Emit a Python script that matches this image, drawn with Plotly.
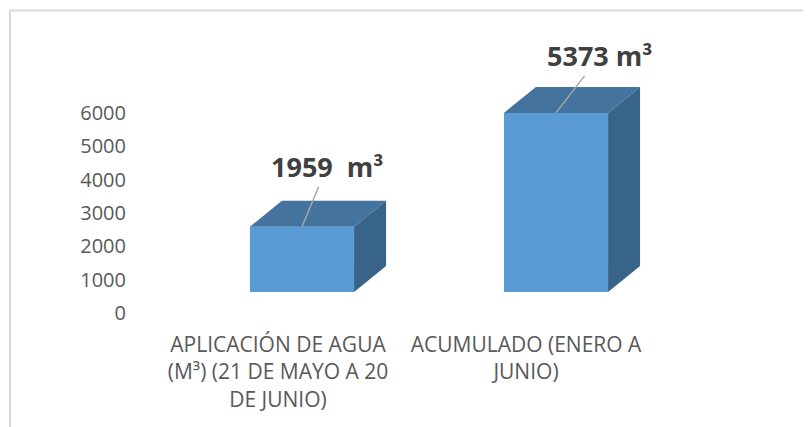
import plotly.graph_objects as go

##### Data #####

categories = [
    "APLICACIÓN DE AGUA<br>(M³) (21 DE MAYO A 20<br>DE JUNIO)",
    "ACUMULADO (ENERO A<br>JUNIO)",
]
values = [1959, 5373]
value_labels = ["1959  m³", "5373 m³"]
y_ticks = [0, 1000, 2000, 3000, 4000, 5000, 6000]

##### Style #####

front_color = "#5B9BD5"
top_color = "#44739E"
side_color = "#38648A"
text_color = "#595959"
font = "Open Sans"

bar_w = 0.41     # front face width (x units)
depth_x = 0.126  # 3D depth offset (x units)
depth_y = 780    # 3D depth offset (y units)

# page has an 8px body margin, so figure pixels = page pixels - 8
W, H = 811, 427

##### Figure #####

fig = go.Figure()

xs = list(range(len(values)))

fig.add_trace(go.Bar(
    x=xs, y=values, width=bar_w,
    marker=dict(color=front_color, line=dict(width=0)),
    xaxis="x2", yaxis="y2", hoverinfo="skip", showlegend=False,
))

for x, v in zip(xs, values):
    l, r = x - bar_w / 2, x + bar_w / 2
    # top face
    fig.add_trace(go.Scatter(
        x=[l, r, r + depth_x, l + depth_x, l],
        y=[v, v, v + depth_y, v + depth_y, v],
        fill="toself", fillcolor=top_color, mode="lines",
        line=dict(width=0), xaxis="x2", yaxis="y2",
        hoverinfo="skip", showlegend=False,
    ))
    # side face
    fig.add_trace(go.Scatter(
        x=[r, r, r + depth_x, r + depth_x, r],
        y=[0, v, v + depth_y, depth_y, 0],
        fill="toself", fillcolor=side_color, mode="lines",
        line=dict(width=0), xaxis="x2", yaxis="y2",
        hoverinfo="skip", showlegend=False,
    ))

# invisible trace so the label axes get drawn
fig.add_trace(go.Scatter(x=xs, y=[0, 0], mode="markers", marker=dict(opacity=0),
                         hoverinfo="skip", showlegend=False))

offsets = [(25, -60), (44, -57)]
for x, v, t, (ax, ay) in zip(xs, values, value_labels, offsets):
    fig.add_annotation(
        x=x, y=v, xref="x2", yref="y2", text="<b>" + t + "</b>",
        showarrow=True, arrowhead=0, arrowwidth=1.5, arrowcolor="#A6A6A6",
        ax=ax, ay=ay, font=dict(family=font, size=27, color="#404040"),
    )

dom_y = [1 - 322 / H, 1 - 12 / H]

fig.update_layout(
    width=W, height=H,
    margin=dict(l=0, r=0, t=0, b=0),
    paper_bgcolor="white", plot_bgcolor="white",
    font=dict(family=font, color=text_color, size=21),
    xaxis=dict(
        domain=[0, 1], range=[-270 / 248, (W - 270) / 248],
        tickvals=xs, ticktext=categories, showgrid=False, zeroline=False,
        showline=False, ticks="", automargin=False, fixedrange=True,
        tickfont=dict(size=21, color=text_color),
    ),
    xaxis2=dict(
        overlaying="x", range=[-294 / 254, (W - 294) / 254],
        visible=False, fixedrange=True,
    ),
    yaxis=dict(
        domain=dom_y, range=[-510, 8790], anchor="free", position=118 / W,
        tickvals=y_ticks, showgrid=False, zeroline=False, showline=False,
        ticks="", automargin=False, fixedrange=True,
        tickfont=dict(size=20, color=text_color),
    ),
    yaxis2=dict(
        overlaying="y", range=[-1140, 8160], visible=False, fixedrange=True,
    ),
    shapes=[dict(
        type="rect", xref="paper", yref="paper",
        x0=2 / W, x1=1.05, y0=-0.05, y1=1 - 2.5 / H,
        line=dict(color="#D9D9D9", width=2), layer="below",
    )],
)

fig.write_html("out.html")
